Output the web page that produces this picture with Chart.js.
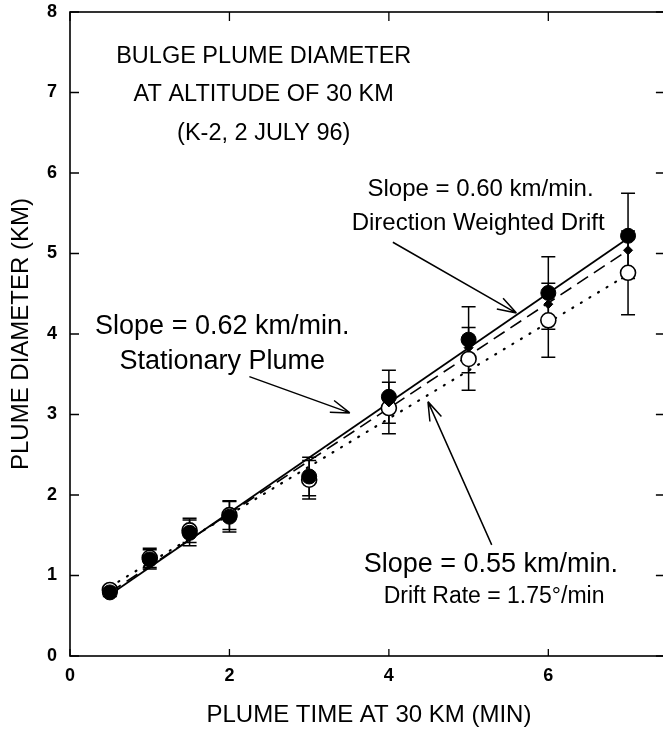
<!DOCTYPE html>
<html>
<head>
<meta charset="utf-8">
<script src="https://cdn.jsdelivr.net/npm/chart.js@4.4.0/dist/chart.umd.min.js"></script>
<style>
  html, body { margin: 0; padding: 0; background: #fff; overflow: hidden; }
  #wrap { width: 663px; height: 730px; overflow: hidden; }
  canvas { display: block; }
</style>
</head>
<body>
<div id="wrap"><canvas id="myChart" width="677" height="730"></canvas></div>
<script>
// plume time (min)
var times = [0.5, 1, 1.5, 2, 3, 4, 5, 6, 7];

// filled circles - stationary plume
var stationary = [0.79, 1.20, 1.53, 1.73, 2.23, 3.22, 3.93, 4.51, 5.22];
var stationaryErr = [0.05, 0.12, 0.16, 0.19, 0.24, 0.33, 0.41, 0.45, 0.53];

// small diamonds - direction weighted drift
var weighted = [0.80, 1.21, 1.54, 1.74, 2.21, 3.15, 3.83, 4.37, 5.04];

// open circles - drift rate 1.75 deg/min
var driftRate = [0.82, 1.22, 1.56, 1.75, 2.19, 3.08, 3.69, 4.17, 4.76];
var driftRateErr = [0.05, 0.12, 0.15, 0.18, 0.24, 0.32, 0.39, 0.46, 0.52];

// fitted lines (end points)
var fitX = [0.5, 7];
var fitStationary = [0.76, 5.19];
var fitWeighted = [0.79, 5.04];
var fitDrift = [0.86, 4.74];

var xTicks = [0, 2, 4, 6];
var yTicks = [0, 1, 2, 3, 4, 5, 6, 7, 8];

function pts(xs, ys) {
    return xs.map(function (x, i) { return { x: x, y: ys[i] }; });
}

var FONT = "'Liberation Sans', Arial, sans-serif";

// text blocks and arrows, in data units
var notes = [
    { x: 2.43, y: 7.45, text: "BULGE PLUME DIAMETER", size: 23.5 },
    { x: 2.43, y: 6.97, text: "AT ALTITUDE OF 30 KM", size: 23.5 },
    { x: 2.43, y: 6.49, text: "(K-2, 2 JULY 96)", size: 23.5 },
    { x: 5.15, y: 5.80, text: "Slope = 0.60 km/min.", size: 24 },
    { x: 5.12, y: 5.38, text: "Direction Weighted Drift", size: 24 },
    { x: 1.91, y: 4.09, text: "Slope = 0.62 km/min.", size: 27 },
    { x: 1.91, y: 3.66, text: "Stationary Plume", size: 27 },
    { x: 5.28, y: 1.13, text: "Slope = 0.55 km/min.", size: 27 },
    { x: 5.32, y: 0.74, text: "Drift Rate = 1.75\u00B0/min", size: 23 }
];
var arrows = [
    { x0: 4.05, y0: 5.14, x1: 5.60, y1: 4.26 },
    { x0: 2.25, y0: 3.47, x1: 3.51, y1: 3.02 },
    { x0: 5.29, y0: 1.38, x1: 4.49, y1: 3.16 }
];

var framePlugin = {
    id: 'frame',
    beforeDatasetsDraw: function (chart) {
        var c = chart.ctx, a = chart.chartArea;
        var xs = chart.scales.x, ys = chart.scales.y;
        c.save();
        c.strokeStyle = '#000';
        c.lineWidth = 1.6;
        c.strokeRect(a.left, a.top, a.right - a.left, a.bottom - a.top);
        c.lineWidth = 1.3;
        c.beginPath();
        yTicks.forEach(function (v) {
            var p = ys.getPixelForValue(v);
            c.moveTo(a.left, p); c.lineTo(a.left + 9, p);
            c.moveTo(a.right, p); c.lineTo(a.right - 12, p);
        });
        xTicks.forEach(function (v) {
            var p = xs.getPixelForValue(v);
            c.moveTo(p, a.bottom); c.lineTo(p, a.bottom - 7);
            c.moveTo(p, a.top); c.lineTo(p, a.top + 9);
        });
        c.stroke();

        // error bars
        function bars(vals, errs) {
            c.beginPath();
            times.forEach(function (t, i) {
                var px = xs.getPixelForValue(t);
                var hi = ys.getPixelForValue(vals[i] + errs[i]);
                var lo = ys.getPixelForValue(vals[i] - errs[i]);
                c.moveTo(px, hi); c.lineTo(px, lo);
                c.moveTo(px - 7, hi); c.lineTo(px + 7, hi);
                c.moveTo(px - 7, lo); c.lineTo(px + 7, lo);
            });
            c.stroke();
        }
        c.lineWidth = 1.5;
        bars(stationary, stationaryErr);
        bars(driftRate, driftRateErr);
        c.restore();
    },
    afterDatasetsDraw: function (chart) {
        var c = chart.ctx;
        var xs = chart.scales.x, ys = chart.scales.y;
        c.save();
        c.fillStyle = '#000';
        c.textAlign = 'center';
        c.textBaseline = 'middle';
        notes.forEach(function (n) {
            c.font = n.size + 'px ' + FONT;
            c.fillText(n.text, xs.getPixelForValue(n.x), ys.getPixelForValue(n.y));
        });
        c.strokeStyle = '#000';
        c.lineWidth = 1.5;
        arrows.forEach(function (ar) {
            var x0 = xs.getPixelForValue(ar.x0), y0 = ys.getPixelForValue(ar.y0);
            var x1 = xs.getPixelForValue(ar.x1), y1 = ys.getPixelForValue(ar.y1);
            var ang = Math.atan2(y1 - y0, x1 - x0);
            c.beginPath();
            c.moveTo(x0, y0); c.lineTo(x1, y1);
            [0.32, -0.32].forEach(function (d) {
                c.moveTo(x1, y1);
                c.lineTo(x1 - 20 * Math.cos(ang + d), y1 - 20 * Math.sin(ang + d));
            });
            c.stroke();
        });
        c.restore();
    }
};

var ctx = document.getElementById('myChart').getContext('2d');
var myChart = new Chart(ctx, {
    type: 'scatter',
    data: {
        datasets: [
            {
                label: 'fit stationary',
                type: 'line',
                data: pts(fitX, fitStationary),
                borderColor: '#000',
                borderWidth: 1.8,
                pointRadius: 0,
                order: 6
            },
            {
                label: 'fit weighted',
                type: 'line',
                data: pts(fitX, fitWeighted),
                borderColor: '#000',
                borderWidth: 1.6,
                borderDash: [13, 7],
                pointRadius: 0,
                order: 5
            },
            {
                label: 'fit drift',
                type: 'line',
                data: pts(fitX, fitDrift),
                borderColor: '#000',
                borderWidth: 2.2,
                borderDash: [1, 9],
                borderCapStyle: 'round',
                pointRadius: 0,
                order: 4
            },
            {
                label: 'drift rate',
                data: pts(times, driftRate),
                pointStyle: 'circle',
                pointRadius: 7.5,
                backgroundColor: '#fff',
                borderColor: '#000',
                borderWidth: 1.6,
                order: 3
            },
            {
                label: 'stationary',
                data: pts(times, stationary),
                pointStyle: 'circle',
                pointRadius: 7.5,
                backgroundColor: '#000',
                borderColor: '#000',
                borderWidth: 1,
                order: 2
            },
            {
                label: 'weighted',
                data: pts(times, weighted),
                pointStyle: 'rectRot',
                pointRadius: 4.5,
                backgroundColor: '#000',
                borderColor: '#000',
                borderWidth: 1,
                order: 1
            }
        ]
    },
    options: {
        responsive: false,
        animation: false,
        events: [],
        layout: { padding: { top: 12, right: 0, left: 0, bottom: 0 } },
        plugins: { legend: { display: false }, tooltip: { enabled: false } },
        scales: {
            x: {
                type: 'linear',
                min: 0,
                max: 7.5,
                grid: { display: false, drawTicks: false },
                border: { display: false },
                afterBuildTicks: function (axis) {
                    axis.ticks = xTicks.map(function (v) { return { value: v }; });
                },
                afterFit: function (s) {
                    s.height = 74;
                    s.paddingLeft = 0;
                    s.paddingRight = 0;
                },
                ticks: {
                    padding: 9,
                    color: '#000',
                    font: { family: FONT, size: 18, weight: 'bold' }
                },
                title: {
                    display: true,
                    text: 'PLUME TIME AT 30 KM (MIN)',
                    color: '#000',
                    font: { family: FONT, size: 24 },
                    padding: { top: 0, bottom: 0 }
                }
            },
            y: {
                type: 'linear',
                min: 0,
                max: 8,
                grid: { display: false, drawTicks: false },
                border: { display: false },
                afterBuildTicks: function (axis) {
                    axis.ticks = yTicks.map(function (v) { return { value: v }; });
                },
                afterFit: function (s) {
                    s.width = 70;
                    s.paddingTop = 0;
                    s.paddingBottom = 0;
                },
                ticks: {
                    padding: 13,
                    color: '#000',
                    font: { family: FONT, size: 18, weight: 'bold' }
                },
                title: {
                    display: true,
                    text: 'PLUME DIAMETER (KM)',
                    color: '#000',
                    font: { family: FONT, size: 24 },
                    padding: { top: 7, bottom: 0 }
                }
            }
        }
    },
    plugins: [framePlugin]
});
</script>
</body>
</html>
